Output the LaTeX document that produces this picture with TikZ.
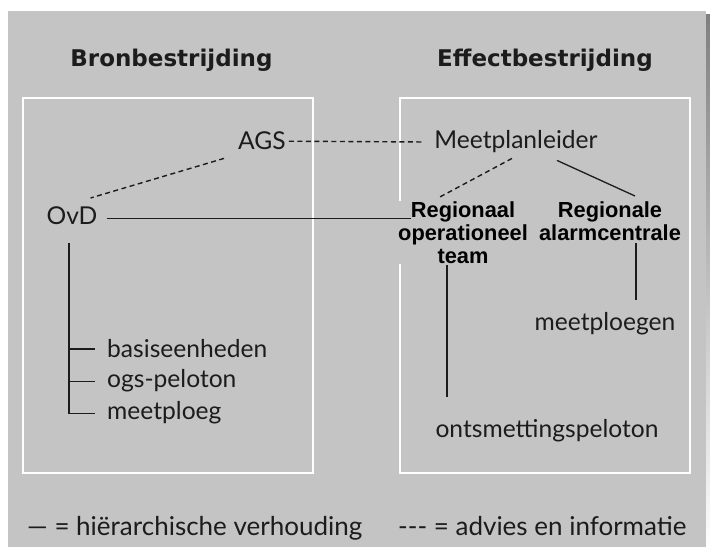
\documentclass[tikz,border=0pt]{standalone}
\usepackage{fontspec}
\setmainfont{Lato}
\newfontfamily\arialfont{Liberation Sans}
\newfontfamily\titlefont{DejaVu Sans}
\usetikzlibrary{calc}
\definecolor{bg}{RGB}{196,196,196}
\definecolor{shade}{RGB}{226,226,226}
\definecolor{ink}{RGB}{28,28,28}
\tikzset{
  lbl/.style={inner sep=0pt, text=ink, font=\fontsize{24.6}{29}\selectfont},
  leg/.style={inner sep=0pt, text=ink, font=\fontsize{26}{30}\selectfont},
  ttl/.style={inner sep=0pt, text=ink, font=\titlefont\bfseries\fontsize{23}{27}\selectfont},
  boldbox/.style={inner sep=1pt, fill=bg, text=black, align=center,
    font=\arialfont\bfseries\fontsize{21.8}{22.6}\selectfont},
  hier/.style={draw=ink, line width=1.3pt},
  adv/.style={draw=ink, line width=1.4pt, dash pattern=on 5pt off 3.5pt},
  frame/.style={draw=white, line width=1.2pt},
}
\begin{document}
\begin{tikzpicture}[x=1pt,y=-1pt]
\useasboundingbox (0,0) rectangle (710,553);
\fill[white] (0,0) rectangle (710,553);
\fill[shade] (12,15) rectangle (710,551);
\fill[bg] (8,11) rectangle (706,547);
\draw[frame] (23,98) rectangle (313,473);
\draw[frame] (400,98) rectangle (690,473);

\node[ttl, anchor=base] (bron) at (171.5,67) {Bronbestrijding};
\node[ttl, anchor=base] (eff) at (545,67) {Effectbestrijding};
\node[lbl, anchor=base] (ags) at (262,150) {AGS};
\node[lbl, anchor=base] (mpl) at (516,149) {Meetplanleider};
\node[lbl, anchor=base] (ovd) at (72,225) {OvD};
\node[boldbox, anchor=north] (rot) at (463,201) {Regionaal\\operationeel\\team};
\node[boldbox, anchor=north] (rac) at (610,201) {Regionale\\alarmcentrale};
\node[lbl, anchor=base] (mploegen) at (605,331) {meetploegen};
\node[lbl, anchor=base] (ontsm) at (547,437) {ontsmettingspeloton};
\node[lbl, anchor=base west] (base) at (107,358) {basiseenheden};
\node[lbl, anchor=base west] (ogs) at (107,388) {ogs-peloton};
\node[lbl, anchor=base west] (mploeg) at (107,420) {meetploeg};
\node[leg, anchor=base west] (leg1) at (27,535) {— = hiërarchische verhouding};
\node[leg, anchor=base west] (leg2) at (398,535) {-{}-{}- = advies en informatie};

% advice lines
\draw[adv, shorten <=3pt, shorten >=10pt] (ags.east) -- (mpl.west);
\draw[adv] ($(ags.south west)+(-14,8)$) -- ($(ovd.north east)+(-7,-9)$);
\draw[adv] ($(mpl.south)+(-4,5)$) -- ($(rot.north)+(-25,-3)$);

% hierarchy lines
\draw[hier] ($(ovd.east)+(9,2)$) -- ($(ovd.east -| rot.north)+(-52,2)$);
\draw[hier] ($(mpl.south)+(41,7)$) -- ($(rac.north)+(25,-5)$);
\draw[hier] ($(rac.south)+(26,1)$) coordinate (r1) -- ($(r1 |- mploegen.north)+(0,-13)$);
\draw[hier] ($(rot.south)+(-16,0)$) coordinate (r2) -- ($(r2 |- ontsm.north)+(0,-22)$);
\draw[hier] ($(ovd.south)+(-3,18)$) coordinate (t) |- ($(mploeg.west)+(-12,0)$);
\draw[hier] (t |- base.west) -- ($(base.west)+(-12,0)$);
\draw[hier] (t |- ogs.west) -- ($(ogs.west)+(-12,0)$);
\end{tikzpicture}
\end{document}
